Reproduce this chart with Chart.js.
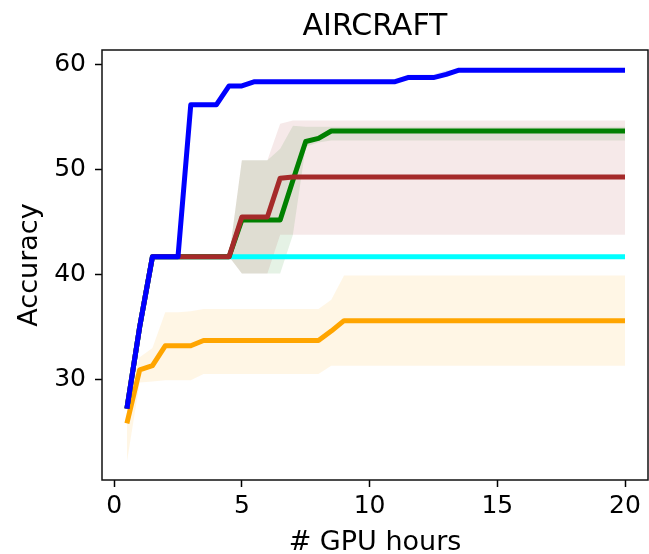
<!DOCTYPE html>
<html>
<head>
<meta charset="utf-8">
<script src="https://cdn.jsdelivr.net/npm/chart.js@4/dist/chart.umd.min.js"></script>
<style>
  html, body { margin: 0; padding: 0; background: #fff; }
  #wrap { width: 649px; height: 554px; }
</style>
</head>
<body>
<div id="wrap"><canvas id="chart"></canvas></div>
<script>
// GPU hours at which each search run was evaluated
const hours = [0.5, 1, 1.5, 2, 2.5, 3, 3.5, 4, 4.5, 5,
               5.5, 6, 6.5, 7, 7.5, 8, 8.5, 9, 9.5, 10,
               10.5, 11, 11.5, 12, 12.5, 13, 13.5, 14, 14.5, 15,
               15.5, 16, 16.5, 17, 17.5, 18, 18.5, 19, 19.5, 20];

// blue run: mean accuracy and its spread
const blueMean = [27.2, 35.0, 41.7, 41.7, 41.7, 56.2, 56.2, 56.2, 58.0, 58.0,
                  58.4, 58.4, 58.4, 58.4, 58.4, 58.4, 58.4, 58.4, 58.4, 58.4,
                  58.4, 58.4, 58.8, 58.8, 58.8, 59.1, 59.5, 59.5, 59.5, 59.5,
                  59.5, 59.5, 59.5, 59.5, 59.5, 59.5, 59.5, 59.5, 59.5, 59.5];
const blueHigh = [27.2, 35.0, 41.7, 41.7, 41.7, 56.2, 56.2, 56.2, 58.0, 58.0,
                  58.4, 58.4, 58.4, 58.4, 58.4, 58.4, 58.4, 58.4, 58.4, 58.4,
                  58.4, 58.6, 59.1, 59.1, 59.1, 59.5, 59.5, 59.5, 59.5, 59.5,
                  59.5, 59.5, 59.5, 59.5, 59.5, 59.5, 59.5, 59.5, 59.5, 59.5];
const blueLow  = [27.2, 35.0, 41.7, 41.7, 41.7, 56.2, 56.2, 56.2, 58.0, 58.0,
                  58.4, 58.4, 58.4, 58.4, 58.4, 58.4, 58.4, 58.4, 58.4, 58.4,
                  58.4, 58.4, 58.8, 58.8, 58.7, 58.9, 59.5, 59.5, 59.5, 59.5,
                  59.5, 59.5, 59.5, 59.5, 59.5, 59.5, 59.5, 59.5, 59.5, 59.5];

// brown run
const redMean = [27.2, 35.0, 41.7, 41.7, 41.7, 41.7, 41.7, 41.7, 41.7, 45.5,
                 45.5, 45.5, 49.2, 49.3, 49.3, 49.3, 49.3, 49.3, 49.3, 49.3,
                 49.3, 49.3, 49.3, 49.3, 49.3, 49.3, 49.3, 49.3, 49.3, 49.3,
                 49.3, 49.3, 49.3, 49.3, 49.3, 49.3, 49.3, 49.3, 49.3, 49.3];
const redHigh = [27.2, 35.0, 41.7, 41.7, 41.7, 41.7, 41.7, 41.7, 41.7, 50.9,
                 50.9, 50.9, 54.4, 54.7, 54.7, 54.7, 54.7, 54.7, 54.7, 54.7,
                 54.7, 54.7, 54.7, 54.7, 54.7, 54.7, 54.7, 54.7, 54.7, 54.7,
                 54.7, 54.7, 54.7, 54.7, 54.7, 54.7, 54.7, 54.7, 54.7, 54.7];
const redLow  = [27.2, 35.0, 41.7, 41.7, 41.7, 41.7, 41.7, 41.7, 41.7, 40.1,
                 40.1, 40.1, 43.8, 43.8, 43.8, 43.8, 43.8, 43.8, 43.8, 43.8,
                 43.8, 43.8, 43.8, 43.8, 43.8, 43.8, 43.8, 43.8, 43.8, 43.8,
                 43.8, 43.8, 43.8, 43.8, 43.8, 43.8, 43.8, 43.8, 43.8, 43.8];

// green run
const greenMean = [27.2, 35.0, 41.7, 41.7, 41.7, 41.7, 41.7, 41.7, 41.7, 45.2,
                   45.2, 45.2, 45.2, 49.0, 52.7, 53.0, 53.7, 53.7, 53.7, 53.7,
                   53.7, 53.7, 53.7, 53.7, 53.7, 53.7, 53.7, 53.7, 53.7, 53.7,
                   53.7, 53.7, 53.7, 53.7, 53.7, 53.7, 53.7, 53.7, 53.7, 53.7];
const greenHigh = [27.2, 35.0, 41.7, 41.7, 41.7, 41.7, 41.7, 41.7, 41.7, 50.9,
                   50.9, 50.9, 52.0, 54.2, 54.1, 54.1, 54.1, 54.1, 54.1, 54.1,
                   54.1, 54.1, 54.1, 54.1, 54.1, 54.1, 54.1, 54.1, 54.1, 54.1,
                   54.1, 54.1, 54.1, 54.1, 54.1, 54.1, 54.1, 54.1, 54.1, 54.1];
const greenLow  = [27.2, 35.0, 41.7, 41.7, 41.7, 41.7, 41.7, 41.7, 41.7, 40.1,
                   40.1, 40.1, 40.1, 43.8, 52.2, 52.6, 52.8, 52.8, 52.8, 52.8,
                   52.8, 52.8, 52.8, 52.8, 52.8, 52.8, 52.8, 52.8, 52.8, 52.8,
                   52.8, 52.8, 52.8, 52.8, 52.8, 52.8, 52.8, 52.8, 52.8, 52.8];

// cyan run (no spread)
const cyanMean = [27.2, 35.0, 41.7, 41.7, 41.7, 41.7, 41.7, 41.7, 41.7, 41.7,
                  41.7, 41.7, 41.7, 41.7, 41.7, 41.7, 41.7, 41.7, 41.7, 41.7,
                  41.7, 41.7, 41.7, 41.7, 41.7, 41.7, 41.7, 41.7, 41.7, 41.7,
                  41.7, 41.7, 41.7, 41.7, 41.7, 41.7, 41.7, 41.7, 41.7, 41.7];

// orange run
const orangeMean = [25.8, 30.9, 31.3, 33.2, 33.2, 33.2, 33.7, 33.7, 33.7, 33.7,
                    33.7, 33.7, 33.7, 33.7, 33.7, 33.7, 34.6, 35.6, 35.6, 35.6,
                    35.6, 35.6, 35.6, 35.6, 35.6, 35.6, 35.6, 35.6, 35.6, 35.6,
                    35.6, 35.6, 35.6, 35.6, 35.6, 35.6, 35.6, 35.6, 35.6, 35.6];
const orangeHigh = [27.8, 32.1, 33.0, 36.4, 36.4, 36.5, 36.7, 36.7, 36.7, 36.7,
                    36.7, 36.7, 36.7, 36.7, 36.7, 36.7, 37.6, 39.9, 39.9, 39.9,
                    39.9, 39.9, 39.9, 39.9, 39.9, 39.9, 39.9, 39.9, 39.9, 39.9,
                    39.9, 39.9, 39.9, 39.9, 39.9, 39.9, 39.9, 39.9, 39.9, 39.9];
const orangeLow  = [22.1, 29.7, 29.8, 29.9, 29.9, 29.9, 30.5, 30.5, 30.5, 30.5,
                    30.5, 30.5, 30.5, 30.5, 30.5, 30.5, 31.3, 31.3, 31.3, 31.3,
                    31.3, 31.3, 31.3, 31.3, 31.3, 31.3, 31.3, 31.3, 31.3, 31.3,
                    31.3, 31.3, 31.3, 31.3, 31.3, 31.3, 31.3, 31.3, 31.3, 31.3];

const xTicks = [0, 5, 10, 15, 20];
const yTicks = [30, 40, 50, 60];

const FONT = '"DejaVu Sans", sans-serif';

const pts = ys => ys.map((y, i) => ({ x: hours[i], y }));

function meanLine(values, color, order) {
  return {
    data: pts(values),
    borderColor: color,
    backgroundColor: color,
    borderWidth: 5,
    pointRadius: 0,
    tension: 0,
    fill: false,
    borderJoinStyle: 'round',
    borderCapStyle: 'butt',
    order
  };
}
function bandEdge(values, fillColor, filled) {
  return {
    data: pts(values),
    borderColor: 'rgba(0,0,0,0)',
    borderWidth: 0,
    pointRadius: 0,
    tension: 0,
    backgroundColor: fillColor,
    fill: filled ? '-1' : false,
    order: 10
  };
}

// axis frame drawn on all four sides of the plot area
const frame = {
  id: 'frame',
  afterDraw(chart) {
    const { ctx, chartArea: a } = chart;
    ctx.save();
    ctx.strokeStyle = '#111';
    ctx.lineWidth = 1.5;
    ctx.strokeRect(a.left, a.top, a.right - a.left, a.bottom - a.top);
    ctx.restore();
  }
};

new Chart(document.getElementById('chart'), {
  type: 'line',
  data: {
    datasets: [
      meanLine(blueMean, '#0000ff', 1),
      meanLine(redMean, '#a52a2a', 2),
      meanLine(greenMean, '#008000', 3),
      meanLine(cyanMean, '#00ffff', 4),
      meanLine(orangeMean, '#ffa500', 5),
      bandEdge(blueLow, 'rgba(0,0,255,0.1)', false),
      bandEdge(blueHigh, 'rgba(0,0,255,0.1)', true),
      bandEdge(redLow, 'rgba(165,42,42,0.1)', false),
      bandEdge(redHigh, 'rgba(165,42,42,0.1)', true),
      bandEdge(greenLow, 'rgba(0,128,0,0.1)', false),
      bandEdge(greenHigh, 'rgba(0,128,0,0.1)', true),
      bandEdge(orangeLow, 'rgba(255,165,0,0.1)', false),
      bandEdge(orangeHigh, 'rgba(255,165,0,0.1)', true)
    ]
  },
  options: {
    responsive: true,
    maintainAspectRatio: false,
    devicePixelRatio: 1,
    animation: false,
    layout: { padding: { left: 0, right: 1, top: 0, bottom: 0 } },
    plugins: {
      legend: { display: false },
      tooltip: { enabled: false },
      title: { display: false },
      filler: { drawTime: 'beforeDatasetsDraw' }
    },
    scales: {
      // top axis only carries the plot title, centred over the plot area
      top: {
        type: 'linear',
        position: 'top',
        min: -0.475,
        max: 20.9,
        afterFit: s => { s.height = 50; },
        ticks: { display: false },
        grid: { display: false },
        border: { display: false },
        title: {
          display: true,
          text: 'AIRCRAFT',
          color: '#000',
          font: { family: FONT, size: 30, lineHeight: 1.2 },
          padding: { top: 9, bottom: 0 }
        }
      },
      x: {
        type: 'linear',
        position: 'bottom',
        min: -0.475,
        max: 20.9,
        afterBuildTicks: s => { s.ticks = xTicks.map(v => ({ value: v })); },
        afterFit: s => { s.height = 74; },
        ticks: { color: '#000', font: { family: FONT, size: 25 }, padding: 4, maxRotation: 0 },
        grid: { drawOnChartArea: false, tickLength: 7, tickColor: '#000', tickWidth: 1.5 },
        border: { display: false },
        title: {
          display: true,
          text: '# GPU hours',
          color: '#000',
          font: { family: FONT, size: 27, lineHeight: 0.8 },
          padding: { top: 0, bottom: 0 }
        }
      },
      y: {
        type: 'linear',
        min: 20.39,
        max: 61.43,
        afterBuildTicks: s => { s.ticks = yTicks.map(v => ({ value: v })); },
        afterFit: s => { s.width = 102; },
        ticks: { color: '#000', font: { family: FONT, size: 25 }, padding: 9 },
        grid: { drawOnChartArea: false, tickLength: 7, tickColor: '#000', tickWidth: 1.5 },
        border: { display: false },
        title: {
          display: true,
          text: 'Accuracy',
          color: '#000',
          font: { family: FONT, size: 27 },
          padding: { top: 14, bottom: 0 }
        }
      }
    }
  },
  plugins: [frame]
});
</script>
</body>
</html>
